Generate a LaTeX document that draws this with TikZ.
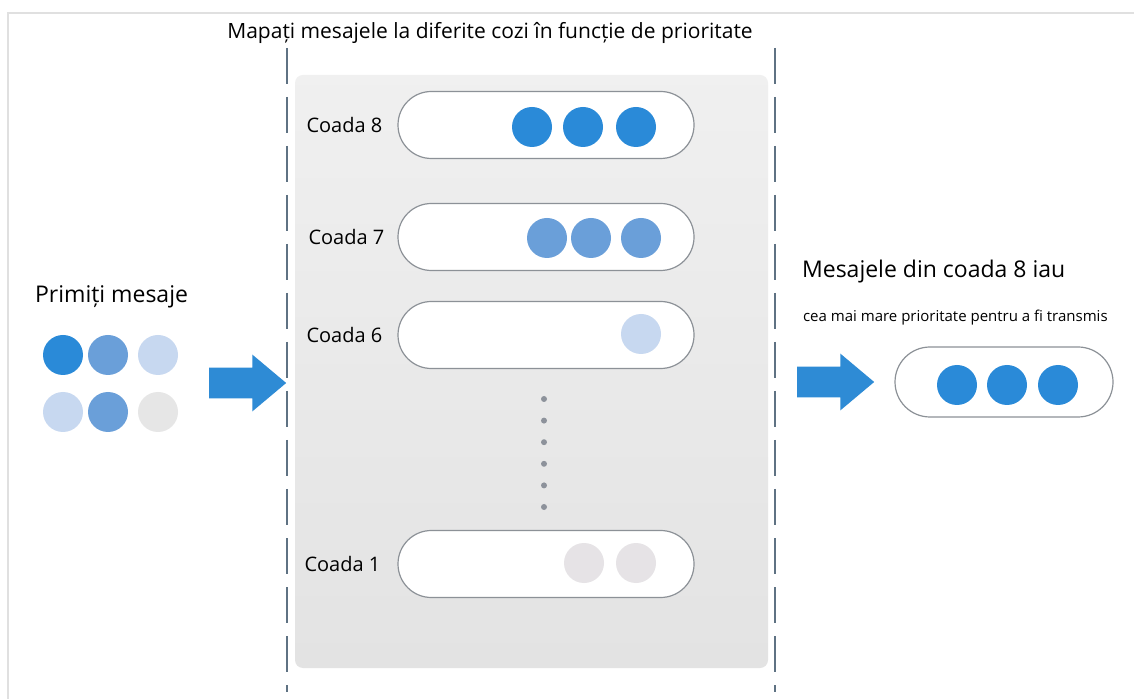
\documentclass[tikz,border=0pt]{standalone}
\usepackage{fontspec}
\setmainfont{Open Sans}
\usepackage{xcolor}
\usepackage{tikz}
\usetikzlibrary{shapes,arrows,positioning,calc}
\definecolor{qblue}{HTML}{2A8AD8}
\definecolor{mblue}{HTML}{6A9FD9}
\definecolor{lblue}{HTML}{C7D8F0}
\definecolor{lgray}{HTML}{E6E6E6}
\definecolor{pgray}{HTML}{E6E3E6}
\definecolor{arrowblue}{HTML}{2E8BD5}
\definecolor{dashcol}{HTML}{5F7283}
\definecolor{pillline}{HTML}{8C9197}
\definecolor{dotgray}{HTML}{8D929B}

\begin{document}
\begin{tikzpicture}[
  x=0.5pt, y=-0.5pt,
  pill/.style={rectangle, draw=pillline, line width=0.6pt, fill=white, minimum width=148pt, minimum height=33.5pt, rounded corners=16.7pt},
  msg/.style={circle, inner sep=0pt, minimum size=20pt},
  qlabel/.style={font=\fontsize{10}{12}\selectfont},
  biglabel/.style={font=\fontsize{11.5}{14}\selectfont},
  bigarrow/.style={single arrow, fill=arrowblue, inner xsep=0pt, inner ysep=7.5pt, text height=0pt, text depth=0pt, minimum width=0pt, minimum height=38.5pt, single arrow head extend=6.5pt, single arrow tip angle=80},
  sep/.style={draw=dashcol, line width=1.3pt, dash pattern=on 18pt off 6.5pt},
  panel/.style={rectangle, rounded corners=4pt, top color=black!6, bottom color=black!11, minimum width=236.5pt, minimum height=296.5pt}
]
\useasboundingbox (0,0) rectangle (1134,699);
\fill[white] (0,0) rectangle (1134,699);
\draw[black!12, line width=0.8pt] (8,699) -- (8,13) -- (1134,13);

% middle panel and separators
\node[panel] (panel) at (531.5,371.5) {};
\draw[sep] (287,48) -- (287,692);
\draw[sep] (775,48) -- (775,692);
\node[qlabel, font=\fontsize{10.5}{12}\selectfont] (title) at (490,33) {Mapați mesajele la diferite cozi în funcție de prioritate};

% queues
\node[pill] (q8) at (546,125) {};
\node[pill] (q7) at (546,237) {};
\node[pill] (q6) at (546,335) {};
\node[pill] (q1) at (546,564) {};
\node[qlabel, left=4pt of q8] {Coada 8};
\node[qlabel, left=3pt of q7] {Coada 7};
\node[qlabel, left=4pt of q6] {Coada 6};
\node[qlabel, left=5pt of q1] {Coada 1};

\foreach \x in {532,583,636}
  \node[msg, fill=qblue] (m8-\x) at (\x,127) {};
\foreach \x in {547,591,641}
  \node[msg, fill=mblue] (m7-\x) at (\x,238) {};
\node[msg, fill=lblue] (m6) at (641,334) {};
\foreach \x in {584,636}
  \node[msg, fill=pgray] (m1-\x) at (\x,563) {};
\foreach \k in {0,...,5}
  \fill[dotgray] (544,{399+21.6*\k}) circle (1.5pt);

% incoming messages
\node[biglabel, anchor=west] (inlabel) at (28,297) {Primiți mesaje};
\node[msg, fill=qblue] (in1) at (63,355) {};
\node[msg, fill=mblue] (in2) at (108,355) {};
\node[msg, fill=lblue] (in3) at (158,355) {};
\node[msg, fill=lblue] (in4) at (63,412) {};
\node[msg, fill=mblue] (in5) at (108,412) {};
\node[msg, fill=lgray] (in6) at (158,412) {};
\node[bigarrow] (inarrow) at (238.5,383) {};

% outgoing queue
\node[biglabel, anchor=west] (outlabel) at (795,272) {Mesajele din coada 8 iau};
\node[font=\fontsize{7.5}{9}\selectfont, anchor=west] (outnote) at (796,318) {cea mai mare prioritate pentru a fi transmis};
\node[bigarrow] (outarrow) at (826.5,382) {};
\node[pill, minimum width=109pt, minimum height=35pt, rounded corners=17.5pt] (qout) at (1004,382) {};
\foreach \x in {957,1007,1058}
  \node[msg, fill=qblue] (mo-\x) at (\x,385) {};
\end{tikzpicture}
\end{document}
